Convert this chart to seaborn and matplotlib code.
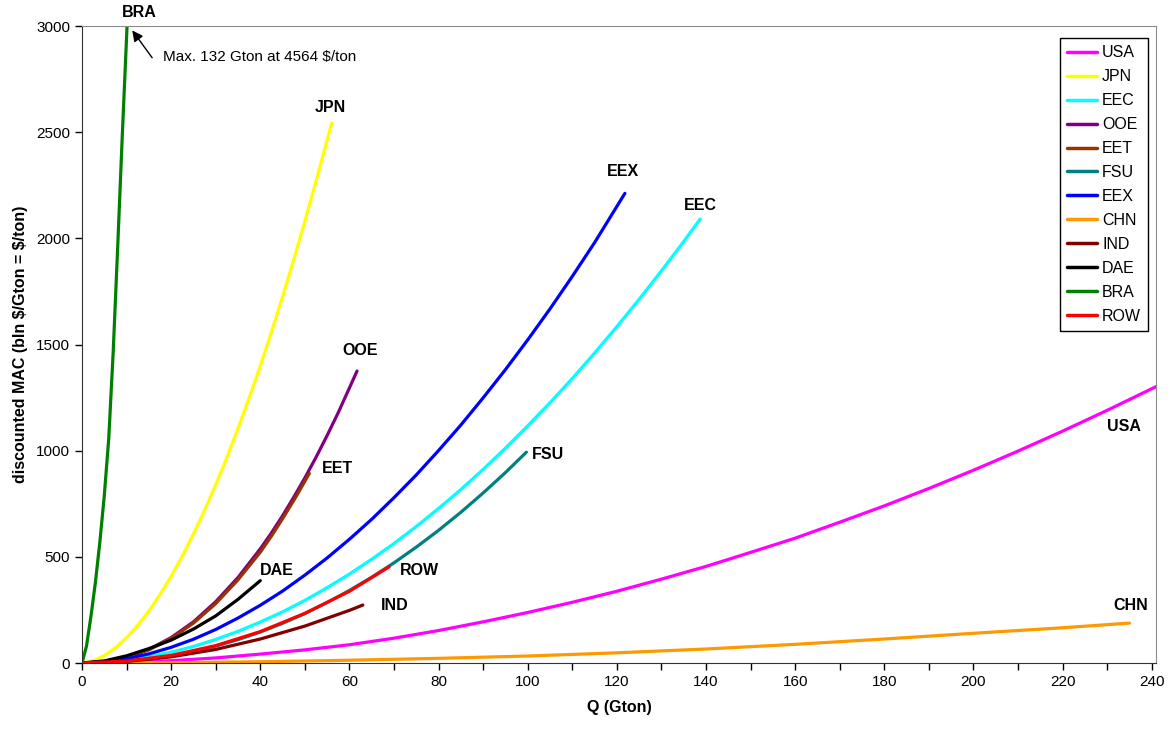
import pandas as pd
import matplotlib
matplotlib.use("Agg")
import matplotlib.pyplot as plt
import seaborn as sns

# Curve data (Q in Gton, MAC in $/ton)
usa_q = [0, 10, 20, 30, 40, 50, 60, 70, 80, 90, 100, 110, 120, 130, 140, 150, 160,
         170, 180, 190, 200, 210, 220, 230, 242]
usa_mac = [0, 3, 11, 24, 42, 62, 86, 117, 153, 194, 238, 286, 338, 395, 455, 521, 588,
           663, 740, 822, 908, 998, 1092, 1190, 1312]

jpn_q = [0, 2.5, 5, 7.5, 10, 12.5, 15, 17.5, 20, 22.5, 25, 27.5, 30, 32.5, 35, 37.5,
         40, 42.5, 45, 47.5, 50, 53, 56]
jpn_mac = [0, 10, 35, 72, 120, 177, 245, 323, 409, 504, 608, 720, 840, 968, 1105, 1249,
           1400, 1559, 1726, 1900, 2081, 2308, 2543]

eec_q = [0, 5, 10, 15, 20, 25, 30, 35, 40, 45, 50, 55, 60, 65, 70, 75, 80, 85, 90, 95,
         100, 105, 110, 115, 120, 125, 130, 135, 138.7]
eec_mac = [0, 3.6, 13.5, 29, 51, 78, 111, 149, 193, 241, 295, 355, 419, 489, 563, 643,
           728, 817, 912, 1012, 1117, 1226, 1340, 1460, 1584, 1713, 1847, 1985, 2091]

ooe_q = [0, 5, 10, 15, 20, 25, 30, 35, 40, 42.5, 45, 47.5, 50, 52.5, 55, 57.5, 61.7]
ooe_mac = [0, 6, 27, 64, 120, 194, 289, 403, 538, 613, 694, 781, 872, 969, 1072, 1180, 1375]

eet_q = [0, 5, 10, 15, 20, 25, 30, 35, 40, 42.5, 45, 48, 51]
eet_mac = [0, 6, 26, 62, 116, 188, 280, 392, 522, 598, 680, 783, 893]

fsu_q = [0, 5, 10, 15, 20, 25, 30, 35, 40, 45, 50, 55, 60, 65, 70, 75, 80, 85, 90, 95, 99.7]
fsu_mac = [0, 1.8, 8, 18.6, 34, 54, 80, 110, 146, 187, 233, 285, 342, 404, 472, 546,
           625, 710, 801, 897, 993]

eex_q = [0, 5, 10, 15, 20, 25, 30, 35, 40, 45, 50, 55, 60, 65, 70, 75, 80, 85, 90, 95,
         100, 105, 110, 115, 121.8]
eex_mac = [0, 5.5, 20, 43, 74, 112, 158, 212, 272, 339, 414, 495, 583, 677, 779, 886,
           1001, 1121, 1249, 1382, 1522, 1668, 1821, 1980, 2212]

chn_q = [0, 20, 40, 60, 80, 100, 120, 140, 160, 180, 200, 220, 235]
chn_mac = [0, 1.5, 6, 13, 22, 33, 48, 66, 88, 113, 140, 166, 188]

ind_q = [0, 10, 20, 30, 40, 50, 60, 63]
ind_mac = [0, 7.5, 29, 64, 113, 174, 248, 273]

dae_q = [0, 5, 10, 15, 20, 25, 30, 35, 40]
dae_mac = [0, 10, 34, 68, 108, 160, 222, 300, 388]

bra_q = [0, 1, 2, 3, 4, 5, 6, 7, 8, 9, 10.1, 10.6]
bra_mac = [0, 80, 220, 380, 570, 790, 1060, 1470, 1960, 2470, 3000, 3250]

row_q = [0, 10, 20, 30, 40, 50, 60, 68.9]
row_mac = [0, 9, 36, 82, 148, 234, 338, 453]

regions = ["USA", "JPN", "EEC", "OOE", "EET", "FSU", "EEX", "CHN", "IND", "DAE", "BRA", "ROW"]
colors = ["#FF00FF", "#FFFF00", "#00FFFF", "#800080", "#993300", "#008080",
          "#0000FF", "#FF9900", "#800000", "#000000", "#008000", "#FF0000"]

series = {
    "USA": (usa_q, usa_mac), "JPN": (jpn_q, jpn_mac), "EEC": (eec_q, eec_mac),
    "OOE": (ooe_q, ooe_mac), "EET": (eet_q, eet_mac), "FSU": (fsu_q, fsu_mac),
    "EEX": (eex_q, eex_mac), "CHN": (chn_q, chn_mac), "IND": (ind_q, ind_mac),
    "DAE": (dae_q, dae_mac), "BRA": (bra_q, bra_mac), "ROW": (row_q, row_mac),
}

# curve end labels (data coords)
label_pos = {
    "BRA": (12.8, 3062), "JPN": (55.7, 2614), "EEX": (121.3, 2313), "EEC": (138.7, 2153),
    "OOE": (62.4, 1474), "EET": (57.3, 918), "FSU": (104.5, 984), "USA": (233.8, 1112),
    "DAE": (43.8, 438), "ROW": (75.6, 438), "IND": (70.2, 273), "CHN": (235.3, 273),
}

frames = []
for r in regions:
    q, m = series[r]
    frames.append(pd.DataFrame({"Q": q, "MAC": m, "region": r}))
df = pd.concat(frames, ignore_index=True)

sns.set_style("ticks")
plt.rcParams["font.family"] = ["Liberation Sans", "DejaVu Sans"]
plt.rcParams["text.color"] = "black"
plt.rcParams["axes.labelcolor"] = "black"
plt.rcParams["lines.solid_joinstyle"] = "round"

fig = plt.figure(figsize=(11.72, 7.31), dpi=100)
ax = fig.add_axes([0.070, 0.093, 0.9165, 0.8714])

sns.lineplot(data=df, x="Q", y="MAC", hue="region", hue_order=regions,
             palette=colors, estimator=None, sort=False, linewidth=2.3, ax=ax)

ax.set_xlim(0, 241)
ax.set_ylim(0, 3000)
ax.set_xticks(range(0, 241, 20))
ax.set_xticks(range(0, 241, 10), minor=True)
ax.set_yticks(range(0, 3001, 500))
ax.tick_params(axis="both", which="both", direction="out", length=5, width=1,
               labelsize=11, colors="black")

for s in ["left", "bottom"]:
    ax.spines[s].set_color("#333333")
for s in ["top", "right"]:
    ax.spines[s].set_visible(True)
    ax.spines[s].set_color("#8c8c8c")

ax.set_xlabel("Q (Gton)", fontsize=11.5, fontweight="bold", labelpad=8)
ax.set_ylabel("discounted MAC (bln \\$/Gton = \\$/ton)", fontsize=11.5,
              fontweight="bold", labelpad=6)

for r in regions:
    x, y = label_pos[r]
    ax.text(x, y, r, fontsize=11.5, fontweight="bold", ha="center", va="center")

# annotation for the BRA curve
ax.annotate("", xy=(10.9, 2990), xytext=(16.1, 2840),
            arrowprops=dict(arrowstyle="-|>", color="black", lw=1, mutation_scale=16))
ax.text(18.1, 2854, "Max. 132 Gton at 4564 \\$/ton", fontsize=11, ha="left", va="center")

leg = ax.legend(loc="upper right", bbox_to_anchor=(0.9926, 0.981), borderaxespad=0,
                fontsize=11.5, frameon=True, fancybox=False, edgecolor="black",
                framealpha=1, handlelength=1.9, handletextpad=0.3, labelspacing=0.56,
                borderpad=0.45)
leg.get_frame().set_linewidth(1)
for line in leg.get_lines():
    line.set_linewidth(2.5)

fig.savefig("out.png", dpi=100)
